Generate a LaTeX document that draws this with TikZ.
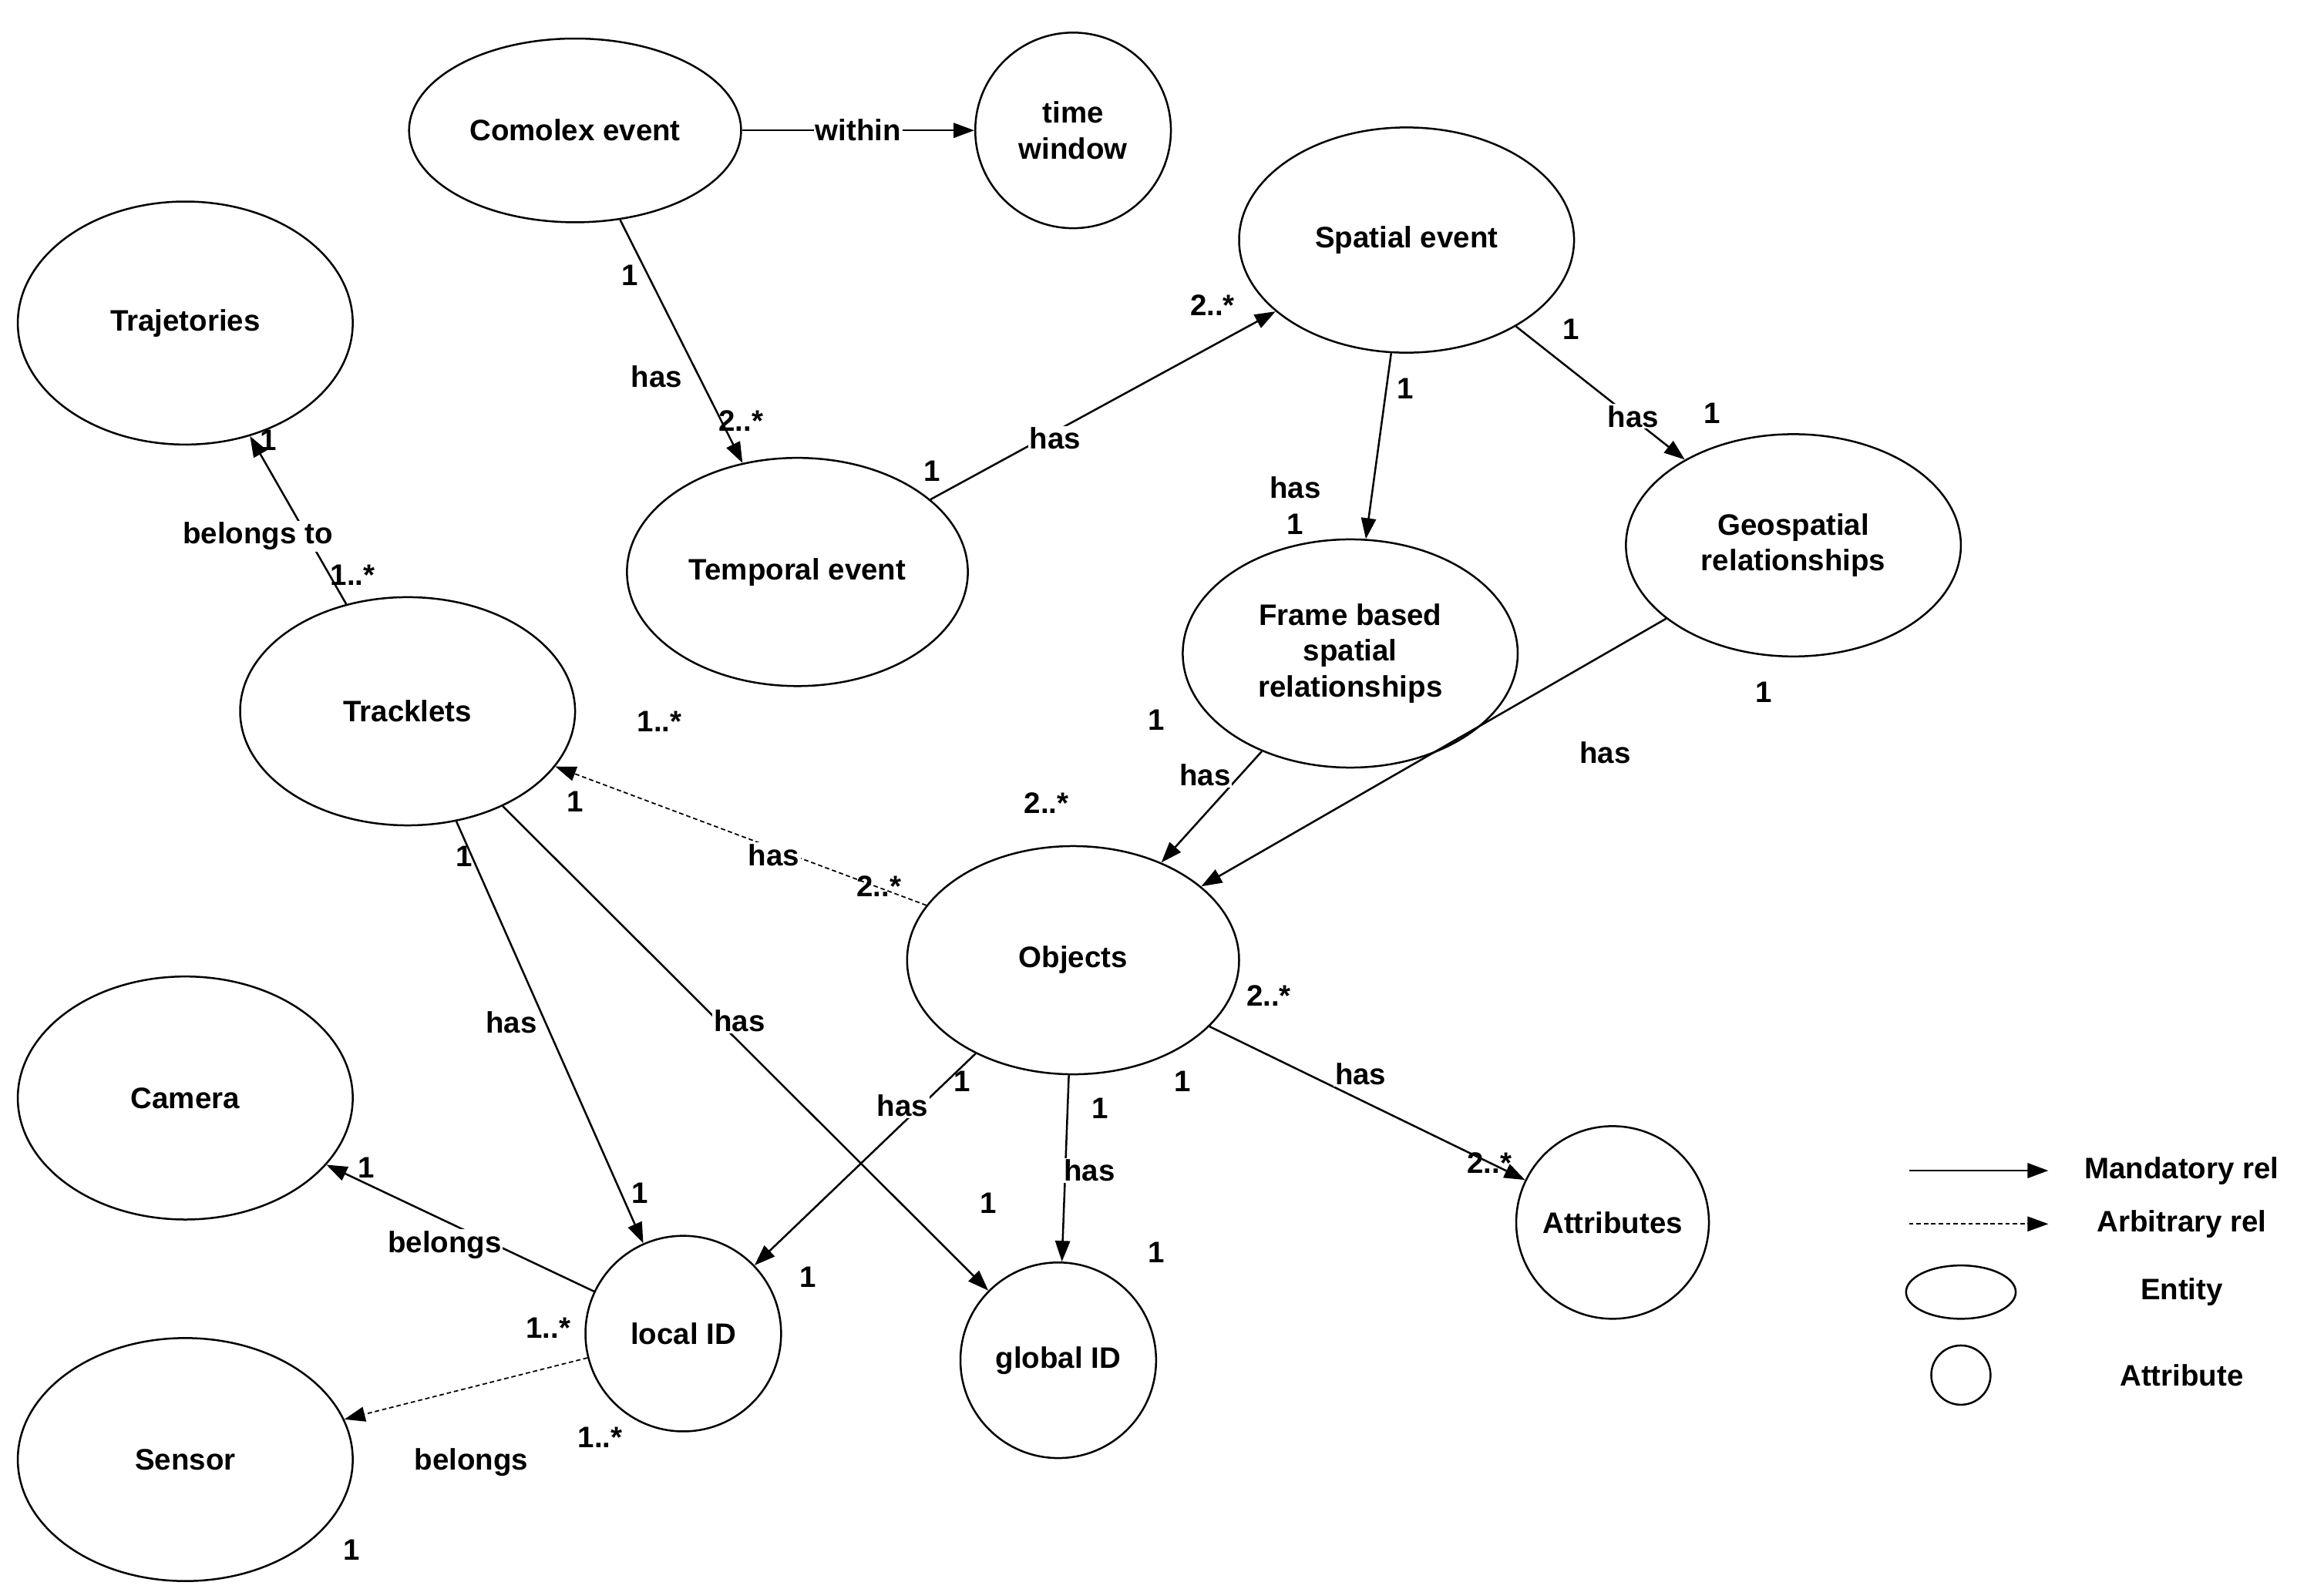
\documentclass[tikz,border=0pt]{standalone}
\usepackage{fontspec}
\setmainfont{Liberation Sans}
\usetikzlibrary{shapes.geometric,arrows.meta}
\begin{document}
\begin{tikzpicture}[x=1pt,y=-1pt,
  font=\fontsize{20}{24}\selectfont\bfseries,
  ent/.style={draw,ellipse,line width=1.3pt,inner sep=0pt,align=center},
  att/.style={draw,circle,line width=1.3pt,inner sep=0pt,align=center},
  rel/.style={line width=1.3pt,-{Triangle[length=14pt,width=10pt]}},
  arb/.style={rel,dashed,line width=0.9pt,dash pattern=on 3pt off 2pt},
  lb/.style={fill=white,inner sep=1pt},
  nm/.style={inner sep=1pt}]
\useasboundingbox (0,0) rectangle (1568,1072);
\node[ent,minimum width=224,minimum height=124] (ce) at (388,88) {Comolex event};
\node[att,minimum size=132] (tw) at (724,88) {time\\window};
\node[ent,minimum width=226,minimum height=152] (se) at (949,162) {Spatial event};
\node[ent,minimum width=226,minimum height=164] (tr) at (125,218) {Trajetories};
\node[ent,minimum width=230,minimum height=154] (te) at (538,386) {Temporal event};
\node[ent,minimum width=226,minimum height=150] (gs) at (1210,368) {Geospatial\\relationships};
\node[ent,minimum width=226,minimum height=154] (fb) at (911,441) {Frame based\\spatial\\relationships};
\node[ent,minimum width=226,minimum height=154] (tk) at (275,480) {Tracklets};
\node[ent,minimum width=224,minimum height=154] (ob) at (724,648) {Objects};
\node[ent,minimum width=226,minimum height=164] (ca) at (125,741) {Camera};
\node[att,minimum size=130] (at) at (1088,825) {Attributes};
\node[att,minimum size=132] (li) at (461,900) {local ID};
\node[att,minimum size=132] (gi) at (714,918) {global ID};
\node[ent,minimum width=226,minimum height=164] (sn) at (125,985) {Sensor};

\draw[rel] (ce) -- (tw) node[lb,midway] (l1) {within};
\draw[rel] (ce) -- (te);
\node[nm] (n1) at (425,186) {1}; \node[lb] (h1) at (443,254) {has}; \node[nm] (n2) at (500,284) {2..*};
\draw[rel] (te) -- (se);
\node[nm] (n3) at (629,318) {1}; \node[lb] (h2) at (712,296) {has}; \node[nm] (n4) at (818,206) {2..*};
\draw[rel] (se) -- (fb);
\node[nm] (n5) at (948,262) {1}; \node[lb] (h3) at (874,329) {has}; \node[nm] (n6) at (874,354) {1};
\draw[rel] (se) -- (gs);
\node[nm] (n7) at (1060,222) {1}; \node[lb] (h4) at (1102,281) {has}; \node[nm] (n8) at (1155,279) {1};
\draw[rel] (fb) -- (ob);
\node[nm] (n9) at (780,486) {1}; \node[lb] (h5) at (813,523) {has}; \node[nm] (n10) at (706,542) {2..*};
\draw[rel] (gs) -- (ob);
\node[nm] (n11) at (1190,467) {1}; \node[lb] (h6) at (1083,508) {has}; \node[nm] (n12) at (856,672) {2..*};
\draw[rel] (tk) -- (tr);
\node[nm] (n13) at (181,297) {1}; \node[lb] (h7) at (174,362) {belongs to}; \node[nm] (n14) at (238,388) {1..*};
\draw[arb] (ob) -- (tk);
\node[nm] (n15) at (445,487) {1..*}; \node[lb] (h8) at (522,577) {has}; \node[nm] (n16) at (593,598) {2..*};
\draw[rel] (tk) -- (li);
\node[nm] (n17) at (313,578) {1}; \node[lb] (h9) at (345,690) {has}; \node[nm] (n18) at (432,805) {1};
\draw[rel] (tk) -- (gi);
\node[nm] (n19) at (388,541) {1}; \node[lb] (h10) at (499,689) {has}; \node[nm] (n20) at (667,812) {1};
\draw[rel] (ob) -- (li);
\node[nm] (n21) at (649,730) {1}; \node[lb] (h11) at (609,746) {has}; \node[nm] (n22) at (545,862) {1};
\draw[rel] (ob) -- (gi);
\node[nm] (n23) at (742,748) {1}; \node[lb] (h12) at (735,790) {has}; \node[nm] (n24) at (780,845) {1};
\draw[rel] (ob) -- (at);
\node[nm] (n25) at (798,730) {1}; \node[lb] (h13) at (918,725) {has}; \node[nm] (n26) at (1005,785) {2..*};
\draw[rel] (li) -- (ca);
\node[nm] (n27) at (247,788) {1}; \node[lb] (h14) at (300,840) {belongs}; \node[nm] (n28) at (370,896) {1..*};
\draw[arb] (li) -- (sn);
\node[nm] (n29) at (405,970) {1..*}; \node[lb] (h15) at (318,987) {belongs}; \node[nm] (n30) at (237,1046) {1};

% legend
\coordinate (m1) at (1288,790); \coordinate (m2) at (1382,790);
\coordinate (a1) at (1288,826); \coordinate (a2) at (1382,826);
\draw[rel] (m1) -- (m2); \draw[arb] (a1) -- (a2);
\node[nm] (lg1) at (1472,790) {Mandatory rel};
\node[nm] (lg2) at (1472,826) {Arbitrary rel};
\node[ent,minimum width=74,minimum height=36] (lg3) at (1323,872) {};
\node[nm] (lg4) at (1472,872) {Entity};
\node[att,minimum size=40] (lg5) at (1323,928) {};
\node[nm] (lg6) at (1472,928) {Attribute};
\end{tikzpicture}
\end{document}
